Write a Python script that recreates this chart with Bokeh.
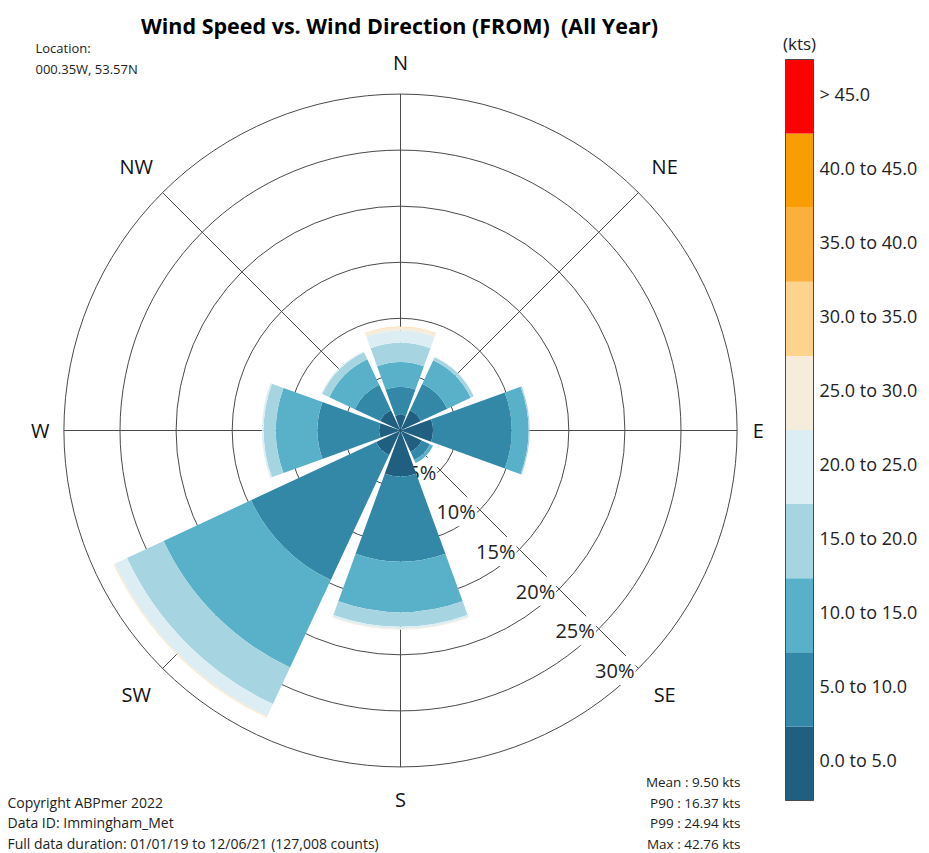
import math
from bokeh.plotting import figure
from bokeh.models import Range1d, ColumnDataSource
from bokeh.core.properties import value
from bokeh.embed import file_html
from bokeh.resources import INLINE

# ---------------- data ----------------
directions = ["N", "NE", "E", "SE", "S", "SW", "W", "NW"]
dir_angles = [0, 45, 90, 135, 180, 225, 270, 315]
speed_bins = ["0.0 to 5.0", "5.0 to 10.0", "10.0 to 15.0", "15.0 to 20.0",
              "20.0 to 25.0", "25.0 to 30.0", "30.0 to 35.0", "35.0 to 40.0",
              "40.0 to 45.0", "> 45.0"]
bin_colors = ["#215f80", "#3388a8", "#58b1c9", "#a6d4e1", "#dceef4",
              "#f6ecdb", "#fdd38e", "#fbb03c", "#f99e00", "#ff0000"]

# percentage of time per speed bin (kts) for each direction sector
freq_N = [1.4, 2.5, 2.2, 1.7, 1.1, 0.3, 0.05, 0.0, 0.0, 0.0]
freq_NE = [2.0, 2.6, 2.3, 0.3, 0.05, 0.0, 0.0, 0.0, 0.0, 0.0]
freq_E = [2.9, 7.0, 1.5, 0.1, 0.0, 0.0, 0.0, 0.0, 0.0, 0.0]
freq_SE = [2.1, 0.8, 0.3, 0.0, 0.0, 0.0, 0.0, 0.0, 0.0, 0.0]
freq_S = [4.1, 7.6, 4.5, 1.3, 0.2, 0.05, 0.0, 0.0, 0.0, 0.0]
freq_SW = [2.4, 12.3, 8.6, 3.6, 1.2, 0.1, 0.02, 0.0, 0.0, 0.0]
freq_W = [1.9, 5.5, 3.7, 1.1, 0.15, 0.0, 0.0, 0.0, 0.0, 0.0]
freq_NW = [2.0, 2.5, 2.5, 0.7, 0.1, 0.0, 0.0, 0.0, 0.0, 0.0]
freqs = [freq_N, freq_NE, freq_E, freq_SE, freq_S, freq_SW, freq_W, freq_NW]

ring_values = [5, 10, 15, 20, 25, 30]
ring_labels = ["5%", "10%", "15%", "20%", "25%", "30%"]

title_text = "Wind Speed vs. Wind Direction (FROM) \u00a0(All Year)"
location_lines = ["Location:", "000.35W, 53.57N"]
footer_lines = ["Copyright ABPmer 2022", "Data ID: Immingham_Met",
                "Full data duration: 01/01/19 to 12/06/21 (127,008 counts)"]
stats_lines = ["Mean : 9.50 kts", "P90 : 16.37 kts", "P99 : 24.94 kts", "Max : 42.76 kts"]
legend_unit = "(kts)"

# ---------------- layout ----------------
W, H = 929, 853
OX, OY = 0, 0           # page px of figure origin
CX, CY = 400, 430       # page px of rose centre
S = 11.22               # px per percent
FONT = "Open Sans"
R_OUT = ring_values[-1]


def px(x):
    return (x - CX) / S


def py(y):
    return (CY - y) / S


p = figure(width=W, height=H, output_backend="svg", toolbar_location=None,
           x_range=Range1d(px(OX), px(OX + W)), y_range=Range1d(py(OY + H), py(OY)),
           min_border=0, outline_line_color=None, background_fill_color="white",
           border_fill_color="white")
p.xaxis.visible = False
p.yaxis.visible = False
p.grid.visible = False

GRID = "#4a4a4a"
# rings
p.circle(x=[0] * len(ring_values), y=[0] * len(ring_values), radius=ring_values,
         fill_color=None, line_color=GRID, line_width=1)
# spokes
p.segment(x0=[0] * 8, y0=[0] * 8,
          x1=[R_OUT * math.sin(math.radians(a)) for a in dir_angles],
          y1=[R_OUT * math.cos(math.radians(a)) for a in dir_angles],
          line_color=GRID, line_width=1)

# ring labels along the SE spoke, white background masking the grid
lab_a = math.radians(135)
p.text(x=[r * math.sin(lab_a) - 3 / S for r in ring_values],
       y=[r * math.cos(lab_a) - 2 / S for r in ring_values],
       text=ring_labels, text_align="right", text_baseline="middle",
       text_font=value(FONT), text_font_size="20px", text_color="#222222",
       background_fill_color="white", padding=1)

# bars
half = 20.0
src = dict(inner=[], outer=[], start=[], end=[], color=[])
for a, f in zip(dir_angles, freqs):
    cum = 0.0
    for j, v in enumerate(f):
        if v <= 0:
            continue
        src["inner"].append(cum)
        cum += v
        src["outer"].append(cum)
        m = 90 - a
        src["start"].append(math.radians(m - half))
        src["end"].append(math.radians(m + half))
        src["color"].append(bin_colors[j])
p.annular_wedge(x=0, y=0, inner_radius="inner", outer_radius="outer",
                start_angle="start", end_angle="end", fill_color="color",
                line_color=None, source=ColumnDataSource(src))

# compass labels
lab_r = [32.8, 33.3, 31.9, 33.3, 32.9, 33.3, 32.1, 33.3]
p.text(x=[r * math.sin(math.radians(a)) for r, a in zip(lab_r, dir_angles)],
       y=[r * math.cos(math.radians(a)) for r, a in zip(lab_r, dir_angles)],
       text=directions, text_align="center", text_baseline="middle",
       text_font=value(FONT), text_font_size="20px", text_color="#111111")

# title
p.text(x=[px(399)], y=[py(25)], text=[title_text], text_align="center",
       text_baseline="middle", text_font=value(FONT), text_font_size="21.5px",
       text_font_style="bold", text_color="#000000")

# location
p.text(x=[px(35)] * 2, y=[py(47), py(68)], text=location_lines, text_align="left",
       text_baseline="middle", text_font=value(FONT), text_font_size="13px",
       text_color="#222222")

# footer
p.text(x=[px(7)] * 3, y=[py(802), py(822), py(843)], text=footer_lines,
       text_align="left", text_baseline="middle", text_font=value(FONT),
       text_font_size="14px", text_color="#222222")

# stats
p.text(x=[px(740)] * 4, y=[py(781), py(802), py(822), py(843)], text=stats_lines,
       text_align="right", text_baseline="middle", text_font=value(FONT),
       text_font_size="13.5px", text_color="#222222")

# legend colour bar
LX0, LX1, LT, LB = 785, 813, 59, 800
n = len(speed_bins)
hstep = (LB - LT) / n
tops = [py(LB - (j + 1) * hstep) for j in range(n)]
bots = [py(LB - j * hstep) for j in range(n)]
p.quad(left=[px(LX0)] * n, right=[px(LX1)] * n, top=tops, bottom=bots,
       fill_color=bin_colors, line_color=None)
p.quad(left=[px(LX0)], right=[px(LX1)], top=[py(LT)], bottom=[py(LB)],
       fill_color=None, line_color="#4a4a4a", line_width=1)
p.text(x=[px(819)] * n, y=[py(LB - (j + 0.5) * hstep - 3) for j in range(n)],
       text=speed_bins, text_align="left", text_baseline="middle",
       text_font=value(FONT), text_font_size="18px", text_color="#222222")
p.text(x=[px(799)], y=[py(43)], text=[legend_unit], text_align="center",
       text_baseline="middle", text_font=value(FONT), text_font_size="17px",
       text_color="#222222")

open("out.html", "w").write(file_html(p, INLINE))
